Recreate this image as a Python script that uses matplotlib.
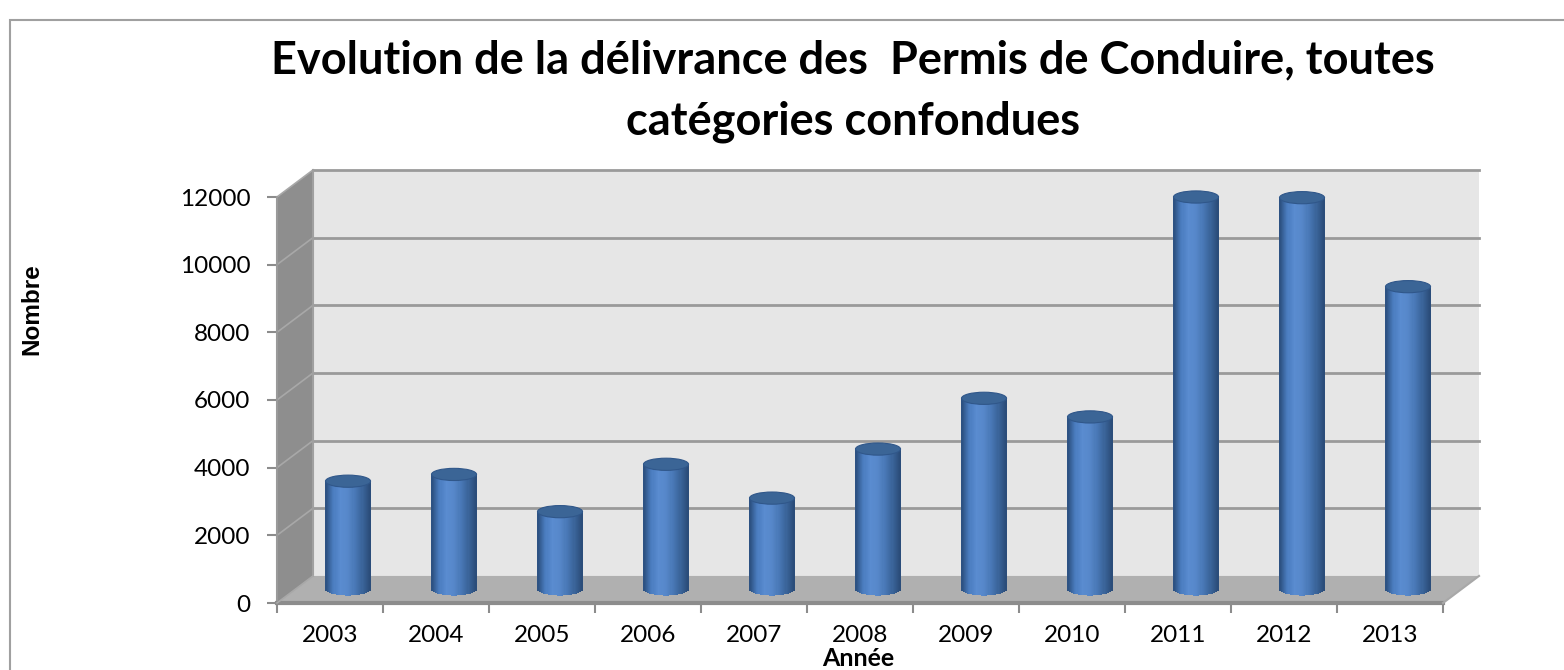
import numpy as np
import matplotlib.pyplot as plt
from matplotlib.patches import Polygon, Rectangle, Ellipse
from matplotlib.colors import LinearSegmentedColormap

annees = ["2003", "2004", "2005", "2006", "2007", "2008", "2009", "2010", "2011", "2012", "2013"]
permis = [3200, 3400, 2300, 3700, 2700, 4150, 5650, 5100, 11600, 11580, 8950]
yticks = [0, 2000, 4000, 6000, 8000, 10000, 12000]

titre = "Evolution de la délivrance des  Permis de Conduire, toutes\ncatégories confondues"

plt.rcParams['font.family'] = ['Lato', 'DejaVu Sans']

fig = plt.figure(figsize=(15.64, 6.70), dpi=100)
ax = fig.add_axes([277 / 1564, 67 / 670, 1166 / 1564, 406 / 670])

n = len(annees)
ymax = 12000
DX = 0.34     # depth offset (categories)
DY = 800      # depth offset (values)

# side wall, back wall, floor
ax.add_patch(Polygon([(0, 0), (DX, DY), (DX, ymax + DY), (0, ymax)],
                     closed=True, fc="#8e8e8e", ec="none", clip_on=False, zorder=1))
ax.add_patch(Rectangle((DX, DY), n, ymax, fc="#e6e6e6", ec="none", clip_on=False, zorder=1))
ax.add_patch(Polygon([(0, 0), (n, 0), (n + DX, DY), (DX, DY)],
                     closed=True, fc="#b0b0b0", ec="none", clip_on=False, zorder=2))

for t in yticks[1:]:
    ax.plot([DX, n + DX], [t + DY, t + DY], color="#9a9a9a", lw=2, clip_on=False, zorder=2)
    ax.plot([0, DX], [t, t + DY], color="#a8a8a8", lw=1.2, clip_on=False, zorder=2)
ax.plot([DX, DX], [DY, ymax + DY], color="#a0a0a0", lw=1.5, clip_on=False, zorder=2)
ax.plot([0, 0], [0, ymax], color="#9a9a9a", lw=1.5, clip_on=False, zorder=2)
ax.plot([0, n], [0, 0], color="#8c8c8c", lw=3, clip_on=False, zorder=3)
ax.plot([n, n + DX], [0, DY], color="#a8a8a8", lw=1.5, clip_on=False, zorder=3)
ax.plot([0, DX], [0, DY], color="#a8a8a8", lw=1.2, clip_on=False, zorder=3)

# cylinders
cmap = LinearSegmentedColormap.from_list("cyl", ["#2d5283", "#4a7cbf", "#5a8cd0", "#5687c9",
                                                 "#4877b5", "#3a6499", "#2b4d7a"])
bw = 0.425
nstrip = 40
sw = bw / nstrip
ell_h = 360
for i, v in enumerate(permis):
    xc = i + 0.5 + DX / 2
    x0 = xc - bw / 2
    xs = np.array([x0 + (k + 0.5) * sw for k in range(nstrip)])
    # rounded bottom of the cylinder
    drop = ell_h / 2 * np.sqrt(np.clip(1 - ((xs - xc) / (bw / 2)) ** 2, 0, 1))
    cols = [cmap(k / (nstrip - 1)) for k in range(nstrip)]
    ax.bar(xs, v + drop, bottom=DY / 2 - drop, width=sw * 1.08, color=cols, linewidth=0,
           zorder=5, clip_on=False)
    ax.add_patch(Ellipse((xc, v + DY / 2), bw, ell_h, fc="#3b6596", ec="#30578a", lw=0.8,
                         zorder=6, clip_on=False))

ax.set_xlim(0, n)
ax.set_ylim(0, ymax)
for s in ax.spines.values():
    s.set_visible(False)
ax.patch.set_visible(False)

ax.set_yticks(yticks)
ax.set_yticklabels([str(t) for t in yticks], fontsize=17.5)
ax.tick_params(axis="y", length=7, width=1.5, color="#8c8c8c", pad=12)
ax.set_xticks(np.arange(n) + 0.5)
ax.set_xticklabels(annees, fontsize=17.5)
ax.tick_params(axis="x", which="major", length=0, pad=16)
ax.set_xticks(np.arange(n + 1), minor=True)
ax.tick_params(axis="x", which="minor", length=7, width=1.5, color="#8c8c8c")

fig.text(858 / 1564, 1 - 659 / 670, "Année", ha="center", va="center",
         fontsize=18, fontweight="bold")
fig.text(32 / 1564, 1 - 309 / 670, "Nombre", ha="center", va="center", rotation=90,
         fontsize=17.5, fontweight="bold", family=["Liberation Sans", "DejaVu Sans"])
fig.text(853 / 1564, 1 - 91 / 670, titre, ha="center", va="center", fontsize=32.5,
         fontweight="bold", linespacing=1.55)

# chart frame
fig.add_artist(Rectangle((10 / 1564, -0.05), 1.2, 1 - 20 / 670 + 0.05, transform=fig.transFigure,
                         fill=False, ec="#a0a0a0", lw=1.5))

fig.savefig("out.png", dpi=100)
